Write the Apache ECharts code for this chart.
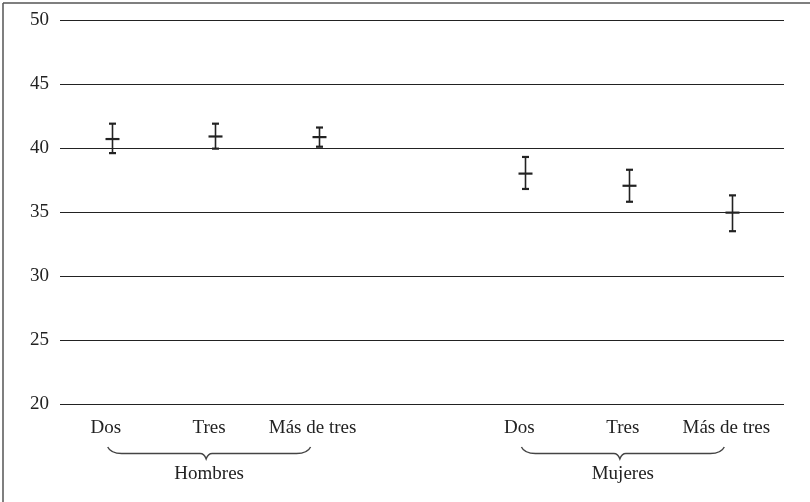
<!DOCTYPE html>
<html>
<head>
<meta charset="utf-8">
<script src="https://cdn.jsdelivr.net/npm/echarts@6/dist/echarts.min.js"></script>
<style>
  html, body { margin: 0; padding: 0; background: #fff; }
  #chart { width: 810px; height: 502px; }
</style>
</head>
<body>
<div id="chart"></div>
<script>
// ---- Data ----
const categories = ['Dos', 'Tres', 'Más de tres', '', 'Dos', 'Tres', 'Más de tres'];
const means = [40.7, 40.9, 40.85, null, 38.0, 37.05, 34.95];
const lows  = [39.6, 39.95, 40.1, null, 36.8, 35.8, 33.5];
const highs = [41.9, 41.9, 41.6, null, 39.3, 38.3, 36.3];
const groupNames = ['Hombres', 'Mujeres'];
const groupStart = [0, 4];
const groupEnd = [2, 6];
const yTicks = [20, 25, 30, 35, 40, 45, 50];

const FONT = 'Liberation Serif';
const INK = '#222';

const barData = [];
for (let i = 0; i < categories.length; i++) {
  if (means[i] == null) continue;
  barData.push([i, lows[i], means[i], highs[i]]);
}
const braceData = groupNames.map((g, k) => [groupStart[k], groupEnd[k], k]);

const chart = echarts.init(document.getElementById('chart'), null, { renderer: 'canvas' });

chart.setOption({
  backgroundColor: '#fff',
  animation: false,
  grid: { left: 60, right: 26, top: 20, bottom: 98, containLabel: false },
  xAxis: {
    type: 'category',
    data: categories,
    boundaryGap: true,
    axisLine: { show: false },
    axisTick: { show: false },
    splitLine: { show: false },
    axisLabel: { fontFamily: FONT, fontSize: 19, color: INK, margin: 15, interval: 0, padding: [0, 12, 0, 0] }
  },
  yAxis: {
    type: 'value',
    min: yTicks[0],
    max: yTicks[yTicks.length - 1],
    interval: 5,
    axisLine: { show: false },
    axisTick: { show: false },
    axisLabel: { fontFamily: FONT, fontSize: 19, color: INK, margin: 11 },
    splitLine: { show: true, lineStyle: { color: INK, width: 1.2 } }
  },
  graphic: [
    { type: 'line', shape: { x1: 3, y1: 3, x2: 810, y2: 3 }, style: { stroke: '#555', lineWidth: 1.5 }, silent: true },
    { type: 'line', shape: { x1: 3, y1: 3, x2: 3, y2: 502 }, style: { stroke: '#555', lineWidth: 1.5 }, silent: true }
  ],
  series: [
    {
      type: 'custom',
      name: 'errorbars',
      data: barData,
      encode: { x: 0, y: [1, 2, 3] },
      clip: false,
      renderItem: function (params, api) {
        const x = api.value(0);
        const lo = api.coord([x, api.value(1)]);
        const mid = api.coord([x, api.value(2)]);
        const hi = api.coord([x, api.value(3)]);
        const cx = Math.round(lo[0]) + 0.5;
        const style = { stroke: INK, lineWidth: 1.6 };
        const capW = 3.5, meanW = 7;
        return {
          type: 'group',
          children: [
            { type: 'line', shape: { x1: cx, y1: hi[1], x2: cx, y2: lo[1] }, style: style },
            { type: 'line', shape: { x1: cx - capW, y1: hi[1], x2: cx + capW, y2: hi[1] }, style: { stroke: INK, lineWidth: 2.2 } },
            { type: 'line', shape: { x1: cx - capW, y1: lo[1], x2: cx + capW, y2: lo[1] }, style: { stroke: INK, lineWidth: 2.2 } },
            { type: 'line', shape: { x1: cx - meanW, y1: mid[1], x2: cx + meanW, y2: mid[1] }, style: { stroke: INK, lineWidth: 2.2 } }
          ]
        };
      },
      z: 5
    },
    {
      type: 'custom',
      name: 'braces',
      data: braceData,
      encode: { x: [0, 1] },
      clip: false,
      silent: true,
      renderItem: function (params, api) {
        const a = api.coord([api.value(0), yTicks[0]]);
        const b = api.coord([api.value(1), yTicks[0]]);
        const base = a[1];
        const x0 = a[0] - 4, x1 = b[0] - 8;
        const m = (x0 + x1) / 2 - 3;
        const yt = base + 43, yh = base + 49.5, yp = base + 55;
        const d = 'M' + x0 + ' ' + yt +
          ' Q' + (x0 + 3) + ' ' + yh + ' ' + (x0 + 14) + ' ' + yh +
          ' L' + (m - 6) + ' ' + yh +
          ' Q' + (m - 2) + ' ' + yh + ' ' + m + ' ' + yp +
          ' Q' + (m + 2) + ' ' + yh + ' ' + (m + 6) + ' ' + yh +
          ' L' + (x1 - 14) + ' ' + yh +
          ' Q' + (x1 - 3) + ' ' + yh + ' ' + x1 + ' ' + yt;
        const name = groupNames[api.value(2)];
        return {
          type: 'group',
          children: [
            { type: 'path', shape: { pathData: d }, style: { stroke: '#444', lineWidth: 1.4, fill: null } },
            { type: 'text', style: { text: name, x: m + 3, y: base + 70, align: 'center', verticalAlign: 'middle',
              font: '19px "' + FONT + '"', fill: INK } }
          ]
        };
      }
    }
  ]
});
</script>
</body>
</html>
